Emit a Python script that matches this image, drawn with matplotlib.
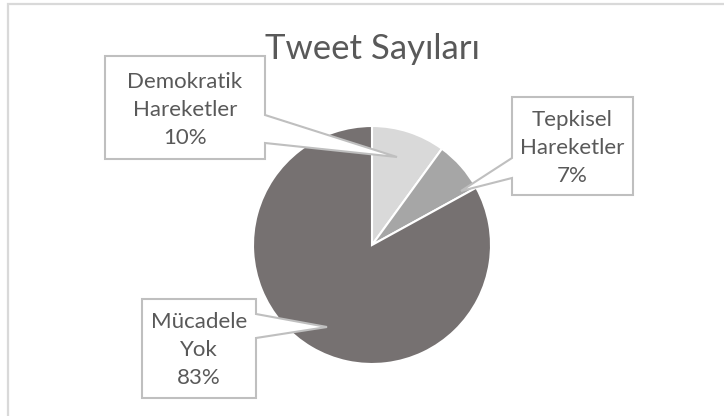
import matplotlib.pyplot as plt
from matplotlib.patches import Polygon, Rectangle

# Data
labels = ['Demokratik\nHareketler', 'Tepkisel\nHareketler', 'Mücadele\nYok']
values = [10, 7, 83]
colors = ['#d9d9d9', '#a6a6a6', '#767171']
title = 'Tweet Sayıları'

plt.rcParams['font.family'] = ['Lato', 'DejaVu Sans']
text_color = '#595959'
W, H = 724, 416

fig = plt.figure(figsize=(W / 100, H / 100), dpi=100)
ax = fig.add_axes([0, 0, 1, 1])
ax.set_xlim(0, W)
ax.set_ylim(0, H)
ax.set_aspect('equal')
ax.axis('off')

def Y(y):
    # pixel row (from top) to data y
    return H - y

# outer chart border (cropped on right/bottom)
ax.add_patch(Rectangle((8, Y(430)), 740, 426, fill=False, ec='#d9d9d9', lw=1.6))

cx, cy, r = 372, 245, 119
wedges, _ = ax.pie(values, colors=colors, startangle=90, counterclock=False,
                   center=(cx, Y(cy)), radius=r,
                   wedgeprops=dict(edgecolor='white', linewidth=1.5))
ax.set_xlim(0, W)
ax.set_ylim(0, H)

ax.text(cx, Y(59), title, ha='center', va='baseline', fontsize=25, color=text_color)

# callout boxes: (left, top, right, bottom), pointer side, pointer y range, tip
callouts = [
    ((105, 56, 265, 159), 'right', (115, 143), (397, 157)),
    ((512, 97, 633, 195), 'left', (158, 178), (461, 191)),
    ((142, 299, 256, 398), 'right', (314, 338), (327, 327)),
]

for lab, val, (box, side, (pu, pl), tip) in zip(labels, values, callouts):
    x0, t, x1, b = box
    if side == 'right':
        pts = [(x0, t), (x1, t), (x1, pu), tip, (x1, pl), (x1, b), (x0, b)]
    else:
        pts = [(x0, t), (x1, t), (x1, b), (x0, b), (x0, pl), tip, (x0, pu)]
    pts = [(px, Y(py)) for px, py in pts]
    ax.add_patch(Polygon(pts, closed=True, fc='white', ec='#bfbfbf', lw=1.5, zorder=3))
    ax.text((x0 + x1) / 2, Y((t + b) / 2 + 2), f'{lab}\n{val}%', ha='center', va='center',
            fontsize=16, color=text_color, linespacing=1.5, zorder=4)

fig.savefig('out.png', dpi=100)
